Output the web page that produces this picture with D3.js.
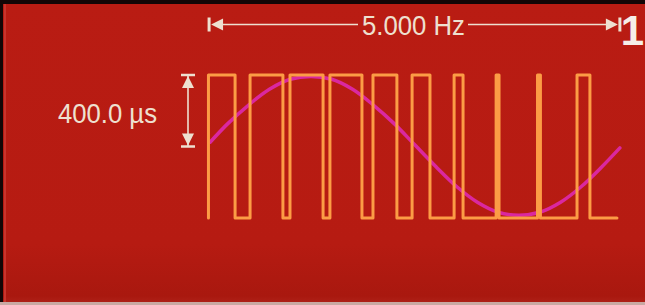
<!DOCTYPE html>
<html>
<head>
<meta charset="utf-8">
<script src="https://cdn.jsdelivr.net/npm/d3@7"></script>
<style>
  body { margin: 0; background: #b51b12; }
  svg { display: block; }
</style>
</head>
<body>
<div id="chart"></div>
<script>
// time in ms over one 5 Hz period, levels 0..1
const pulseRise = [0.7, 20.7, 39.9, 59.1, 79.8, 98.6, 118.8, 139.0, 158.9, 177.9];
const pulseFall = [13.5, 36.5, 55.8, 74.5, 91.3, 107.2, 123.1, 140.4, 160.3, 184.1];
const traceEnd = 197.1;

// reference sine
const sineTime = [1.5, 10, 20, 30, 40, 50, 60, 70, 80, 90, 100, 110, 120, 130, 140, 150, 160, 170, 180, 190, 198.5];
const sineLevel = [0.53, 0.66, 0.79, 0.90, 0.97, 0.99, 0.97, 0.90, 0.79, 0.66, 0.51, 0.36, 0.22, 0.11, 0.04, 0.02, 0.04, 0.11, 0.22, 0.36, 0.49];

const freqLabel = "5.000 Hz";
const timeLabel = "400.0 µs";
const channelLabel = "1";

const width = 645, height = 305;

const svg = d3.select("#chart")
    .append("svg")
    .attr("width", width)
    .attr("height", height);

const x = d3.scaleLinear().domain([0, 200]).range([207, 623]);
const y = d3.scaleLinear().domain([0, 1]).range([218, 75]);

// background
const defs = svg.append("defs");
const grad = defs.append("linearGradient")
    .attr("id", "bg")
    .attr("x1", 0).attr("y1", 0).attr("x2", 0).attr("y2", 1);
grad.append("stop").attr("offset", "0%").attr("stop-color", "#b91c13");
grad.append("stop").attr("offset", "80%").attr("stop-color", "#b61b12");
grad.append("stop").attr("offset", "97%").attr("stop-color", "#a9180f");
grad.append("stop").attr("offset", "100%").attr("stop-color", "#b0231a");

svg.append("rect")
    .attr("width", width).attr("height", height)
    .attr("fill", "url(#bg)");
svg.append("rect")
    .attr("x", 0).attr("y", 0).attr("width", width).attr("height", 4)
    .attr("fill", "#120606");
svg.append("rect")
    .attr("x", 0).attr("y", 0).attr("width", 3).attr("height", height)
    .attr("fill", "#120606");
svg.append("rect")
    .attr("x", 4).attr("y", 4).attr("width", 2).attr("height", height - 4)
    .attr("fill", "#c8342c");
svg.append("rect")
    .attr("x", 0).attr("y", height - 3).attr("width", width).attr("height", 3)
    .attr("fill", "#c9a9a3");

// sine
const sinePts = sineTime.map((t, i) => [t, sineLevel[i]]);
svg.append("path")
    .datum(sinePts)
    .attr("fill", "none")
    .attr("stroke", "#da28a0")
    .attr("stroke-width", 3.5)
    .attr("stroke-linecap", "round")
    .attr("d", d3.line()
        .x(d => x(d[0]))
        .y(d => y(d[1]))
        .curve(d3.curveCatmullRom));

// pwm trace
const pwmPts = [];
pulseRise.forEach((r, i) => {
    pwmPts.push([r, 0], [r, 1], [pulseFall[i], 1], [pulseFall[i], 0]);
});
pwmPts.push([traceEnd, 0]);

svg.append("path")
    .datum(pwmPts)
    .attr("fill", "none")
    .attr("stroke", "#fc9c45")
    .attr("stroke-width", 3)
    .attr("stroke-linejoin", "round")
    .attr("stroke-linecap", "round")
    .attr("d", d3.line().x(d => x(d[0])).y(d => y(d[1])));

// frequency marker
const ink = "#eee0d0";
const ay = 24.5;
const xl = x(1), xr = x(198.5);
const ann = svg.append("g").attr("fill", ink).attr("stroke", ink);

ann.append("line")
    .attr("x1", xl + 12).attr("x2", 358).attr("y1", ay).attr("y2", ay)
    .attr("stroke-width", 1.6);
ann.append("line")
    .attr("x1", 468).attr("x2", xr - 12).attr("y1", ay).attr("y2", ay)
    .attr("stroke-width", 1.6);
[[xl, 1], [xr, -1]].forEach(([px, s]) => {
    ann.append("line")
        .attr("x1", px).attr("x2", px).attr("y1", ay - 7).attr("y2", ay + 7)
        .attr("stroke-width", 3);
    ann.append("path")
        .attr("stroke", "none")
        .attr("d", `M${px + s * 2},${ay} L${px + s * 14},${ay - 6} L${px + s * 14},${ay + 6} Z`);
});

svg.append("text")
    .attr("x", 362).attr("y", 35)
    .attr("textLength", 103).attr("lengthAdjust", "spacingAndGlyphs")
    .style("font-family", "'Liberation Sans', sans-serif")
    .style("font-size", "27px")
    .attr("fill", ink)
    .text(freqLabel);

svg.append("text")
    .attr("x", 644).attr("y", 45)
    .attr("text-anchor", "end")
    .style("font-family", "'Liberation Sans', sans-serif")
    .style("font-size", "42px")
    .style("font-weight", "bold")
    .attr("fill", "#f6eee8")
    .text(channelLabel);

// time marker
const vx = 188, vt = y(1), vb = y(0.5);
ann.append("line")
    .attr("x1", vx).attr("x2", vx).attr("y1", vt).attr("y2", vb)
    .attr("stroke-width", 1.6);
[[vt, 1], [vb, -1]].forEach(([py, s]) => {
    ann.append("line")
        .attr("x1", vx - 7).attr("x2", vx + 7).attr("y1", py).attr("y2", py)
        .attr("stroke-width", 2.5);
    ann.append("path")
        .attr("stroke", "none")
        .attr("d", `M${vx},${py + s * 1} L${vx - 6},${py + s * 13} L${vx + 6},${py + s * 13} Z`);
});

svg.append("text")
    .attr("x", 58).attr("y", 123)
    .attr("textLength", 99).attr("lengthAdjust", "spacingAndGlyphs")
    .style("font-family", "'Liberation Sans', sans-serif")
    .style("font-size", "27px")
    .attr("fill", ink)
    .text(timeLabel);
</script>
</body>
</html>
